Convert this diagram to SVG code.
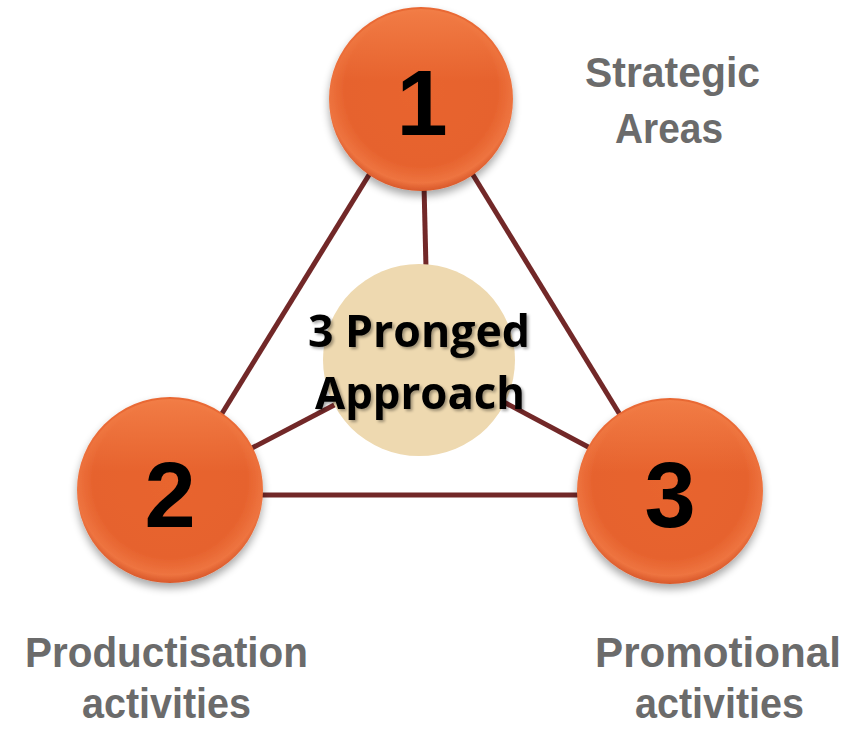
<svg xmlns="http://www.w3.org/2000/svg" width="851" height="730" viewBox="0 0 851 730">
<defs>
<radialGradient id="ball" cx="50%" cy="45%" r="55%">
<stop offset="0" stop-color="#E8652F"/>
<stop offset="0.75" stop-color="#E6622D"/>
<stop offset="0.92" stop-color="#EE7440"/>
<stop offset="1" stop-color="#D8582A"/>
</radialGradient>
<linearGradient id="top" x1="0" y1="0" x2="0" y2="1">
<stop offset="0" stop-color="#F6874F" stop-opacity="0.7"/>
<stop offset="0.4" stop-color="#F6874F" stop-opacity="0"/>
</linearGradient>
<filter id="shadow" x="-20%" y="-20%" width="140%" height="150%">
<feGaussianBlur in="SourceAlpha" stdDeviation="4"/>
<feOffset dy="5"/>
<feComponentTransfer><feFuncA type="linear" slope="0.35"/></feComponentTransfer>
<feMerge><feMergeNode/><feMergeNode in="SourceGraphic"/></feMerge>
</filter>
<filter id="tshadow" x="-10%" y="-20%" width="120%" height="150%">
<feGaussianBlur in="SourceAlpha" stdDeviation="1.5"/>
<feOffset dx="2" dy="2"/>
<feComponentTransfer><feFuncA type="linear" slope="0.35"/></feComponentTransfer>
<feMerge><feMergeNode/><feMergeNode in="SourceGraphic"/></feMerge>
</filter>
</defs>
<style>
.conn { stroke: #722828; stroke-width: 5; fill: none; }
.ball { fill: url(#ball); filter: url(#shadow); }
.hl { fill: url(#top); }
.num { font-family: "Liberation Sans", Arial, sans-serif; font-weight: bold; font-size: 92px; fill: #000; text-anchor: middle; }
.lbl { font-family: "Liberation Sans", Arial, sans-serif; font-weight: bold; font-size: 42px; fill: #6B6B6B; }
.ctr { font-family: "Open Sans", "Liberation Sans", sans-serif; font-weight: bold; font-size: 44px; fill: #000; filter: url(#tshadow); }
</style>
<rect width="851" height="730" fill="#FFFFFF"/>
<g id="connectors">
<line class="conn" x1="372" y1="170" x2="218" y2="420"/>
<line class="conn" x1="470" y1="170" x2="622" y2="418"/>
<line class="conn" x1="255" y1="495" x2="585" y2="495"/>
<line class="conn" x1="424" y1="185" x2="426" y2="268"/>
<line class="conn" x1="252" y1="448" x2="340" y2="402"/>
<line class="conn" x1="500" y1="400" x2="592" y2="449"/>
</g>
<g id="center">
<circle cx="419" cy="360" r="96" fill="#EED9B0"/>
<text class="ctr" x="308" y="347" textLength="222" lengthAdjust="spacingAndGlyphs">3 Pronged</text>
<text class="ctr" x="315" y="409" textLength="210" lengthAdjust="spacingAndGlyphs">Approach</text>
</g>
<g id="node1">
<circle class="ball" cx="421" cy="99" r="92"/>
<circle class="hl" cx="421" cy="99" r="90"/>
<text class="num" x="422" y="135">1</text>
</g>
<g id="node2">
<circle class="ball" cx="170" cy="490" r="93"/>
<circle class="hl" cx="170" cy="490" r="91"/>
<text class="num" x="170" y="527">2</text>
</g>
<g id="node3">
<circle class="ball" cx="670" cy="491" r="93"/>
<circle class="hl" cx="670" cy="491" r="91"/>
<text class="num" x="670" y="527">3</text>
</g>
<g id="label1">
<text class="lbl" x="585" y="87" textLength="175" lengthAdjust="spacingAndGlyphs">Strategic</text>
<text class="lbl" x="615" y="143" textLength="108" lengthAdjust="spacingAndGlyphs">Areas</text>
</g>
<g id="label2">
<text class="lbl" x="25" y="667" textLength="283" lengthAdjust="spacingAndGlyphs">Productisation</text>
<text class="lbl" x="82" y="718" textLength="169" lengthAdjust="spacingAndGlyphs">activities</text>
</g>
<g id="label3">
<text class="lbl" x="595" y="667" textLength="246" lengthAdjust="spacingAndGlyphs">Promotional</text>
<text class="lbl" x="635" y="718" textLength="169" lengthAdjust="spacingAndGlyphs">activities</text>
</g>
</svg>
